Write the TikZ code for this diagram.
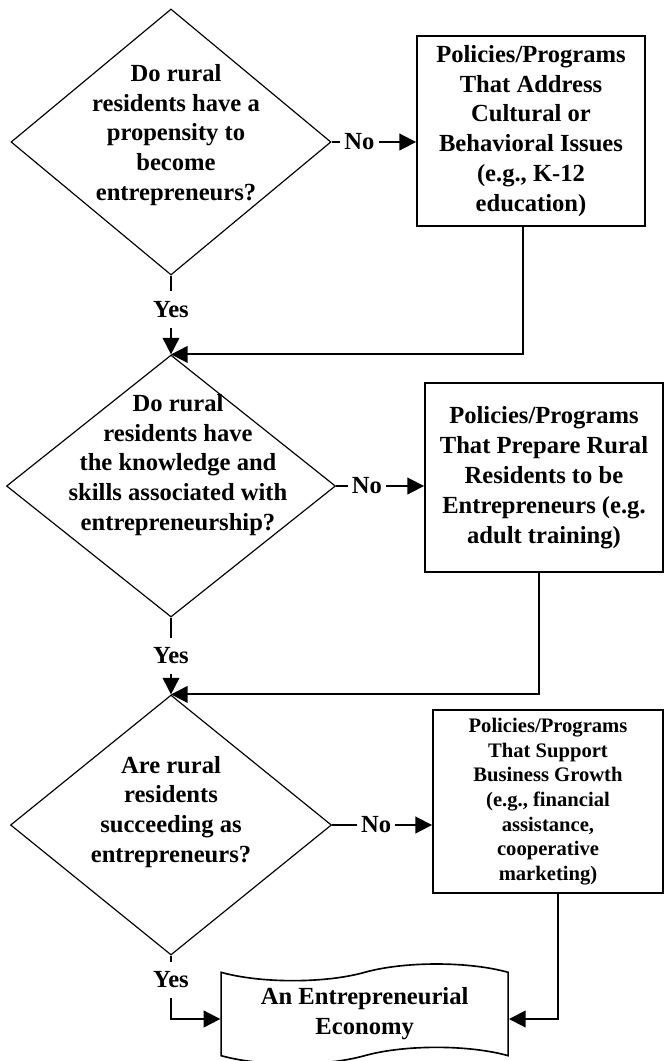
\documentclass[tikz,border=0pt]{standalone}
\usepackage{fontspec}
\setmainfont{Liberation Serif}
\usetikzlibrary{arrows.meta, shapes.geometric, shapes.symbols}

\begin{document}
\begin{tikzpicture}[
  >={Triangle[length=0.5cm, width=0.5cm]},
  every node/.style={font=\fontsize{21}{25.5}\selectfont\bfseries},
  decision/.style={
    diamond, draw=black, line width=1pt,
    inner sep=0pt
  },
  question/.style={align=center, inner sep=0pt},
  policy/.style={
    rectangle, draw=black, line width=1.6pt,
    align=center, inner sep=2pt
  },
  outcome/.style={
    tape, draw=black, line width=1.4pt,
    align=center, tape bend height=0.5cm,
    minimum width=8.61cm, minimum height=3.0cm
  },
  lbl/.style={fill=white, inner sep=0.12cm},
  yes/.style={fill=white, inner xsep=0.1cm, inner ysep=0.3cm},
  link/.style={->, line width=1.6pt}
]
  \useasboundingbox (0,0) rectangle (19.92,-31.83);

  % --- Questions ---
  \node[decision, minimum width=9.6cm, minimum height=7.98cm] (d1) at (5.13,-4.26) {};
  \node[question] (q1) at (5.28,-4.05)
    {Do rural\\residents have a\\propensity to\\become\\entrepreneurs?};

  \node[decision, minimum width=9.87cm, minimum height=7.86cm] (d2) at (5.13,-14.58) {};
  \node[question] (q2) at (5.34,-13.95)
    {Do rural\\residents have\\the knowledge and\\skills associated with\\entrepreneurship?};

  \node[decision, minimum width=9.63cm, minimum height=7.8cm] (d3) at (5.13,-24.75) {};
  \node[question] (q3) at (5.13,-24.36)
    {Are rural\\residents\\succeeding as\\entrepreneurs?};

  % --- Policies / programs ---
  \node[policy, minimum width=6.84cm, minimum height=5.7cm] (b1) at (15.93,-3.93)
    {Policies/Programs\\That Address\\Cultural or\\Behavioral Issues\\(e.g., K-12\\education)};

  \node[policy, minimum width=7.14cm, minimum height=5.67cm] (b2) at (16.32,-14.33)
    {Policies/Programs\\That Prepare Rural\\Residents to be\\Entrepreneurs (e.g.\\adult training)};

  \node[policy, minimum width=6.9cm, minimum height=5.49cm,
        font=\fontsize{17.6}{21}\selectfont\bfseries] (b3) at (16.44,-24.05)
    {Policies/Programs\\That Support\\Business Growth\\(e.g., financial\\assistance,\\cooperative\\marketing)};

  % --- Outcome ---
  \node[outcome] (econ) at (10.94,-30.42) {An Entrepreneurial\\Economy};

  % --- Arrows ---
  \draw[link] (d1.east) -- node[lbl, pos=0.33]{No} (d1.east -| b1.west);
  \draw[link] (d2.east) -- node[lbl, pos=0.35]{No} (d2.east -| b2.west);
  \draw[link] (d3.east) -- node[lbl, pos=0.44]{No} (d3.east -| b3.west);

  \draw[link] (d1.south) -- node[yes, pos=0.43]{Yes} (d2.north);
  \draw[link] (d2.south) -- node[yes, pos=0.5]{Yes} (d3.north);
  \draw[link] (d3.south) |- node[yes, pos=0.19]{Yes} ([yshift=-0.15cm]econ.west);

  \draw[link] ([xshift=-0.24cm]b1.south) |- (d2.north);
  \draw[link] ([xshift=-0.15cm]b2.south) |- (d3.north);
  \draw[link] ([xshift=0.3cm]b3.south) |- ([yshift=-0.15cm]econ.east);
\end{tikzpicture}
\end{document}
